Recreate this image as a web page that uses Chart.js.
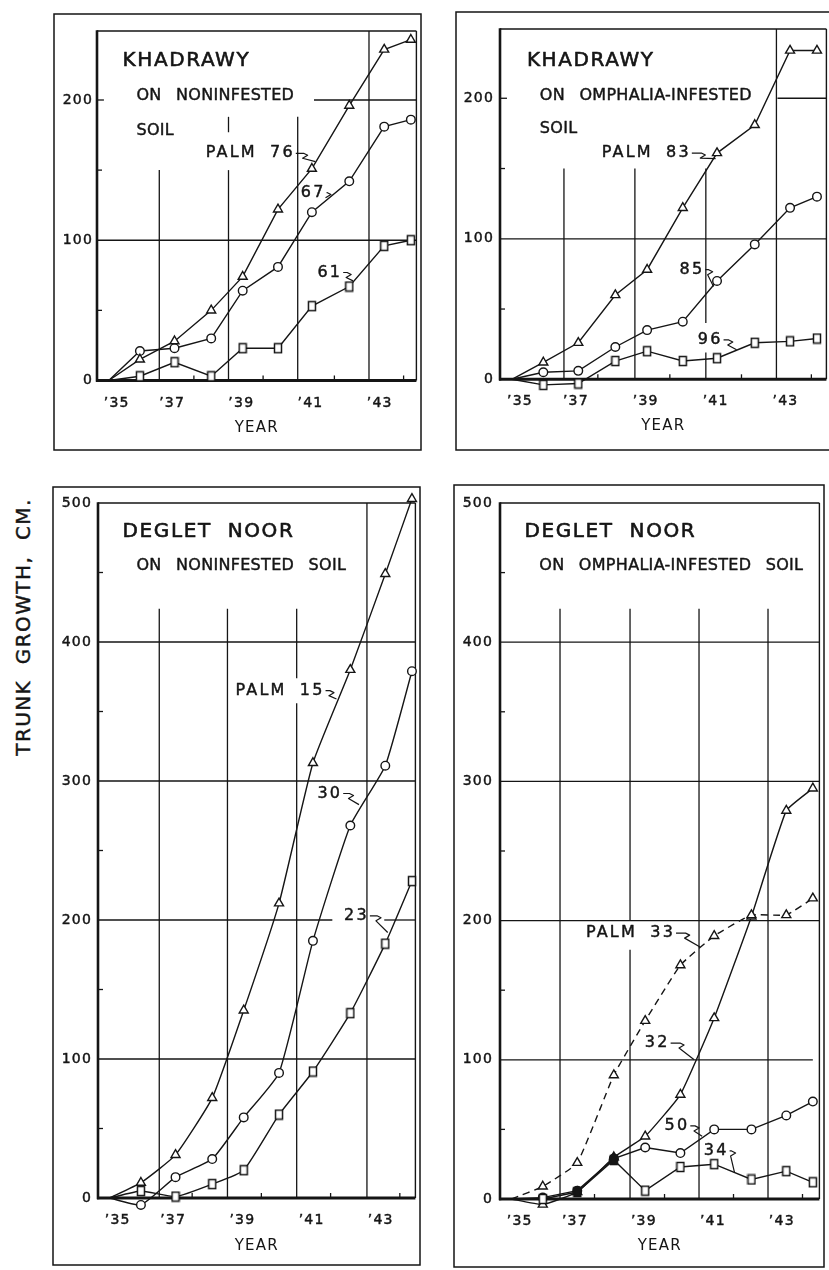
<!DOCTYPE html>
<html>
<head>
<meta charset="utf-8">
<script src="https://cdn.jsdelivr.net/npm/chart.js@4/dist/chart.umd.min.js"></script>
<style>
  html, body { margin: 0; padding: 0; background: #fff; width: 829px; height: 1270px; overflow: hidden; position: relative; }
  canvas { position: absolute; }
  #ytitle {
    position: absolute; left: 23px; top: 627px;
    transform: translate(-50%, -50%) rotate(-90deg);
    font: 20px "DejaVu Sans", sans-serif; letter-spacing: 1.4px; word-spacing: 8px;
    -webkit-text-stroke: 0.45px #151515;
    white-space: nowrap; color: #151515;
  }
</style>
</head>
<body>
<div id="ytitle">TRUNK GROWTH, CM.</div>
<canvas id="c1"></canvas>
<canvas id="c2"></canvas>
<canvas id="c3"></canvas>
<canvas id="c4"></canvas>
<script>
// Measurement dates (fractional years), shared by all four plots.
// The first entry is the common starting point of every curve.
const years = [1935.17, 1936.07, 1937.07, 1938.13, 1939.04, 1940.06, 1941.04, 1942.12, 1943.13, 1943.9];
const yearTicks = [1935.4, 1937, 1939, 1941, 1943];
const yearLabels = ['\u201935', '\u201937', '\u201939', '\u201941', '\u201943'];

// Khadrawy on noninfested soil (trunk growth, cm)
const khNonPalm76 = [0, 15, 28, 50, 74, 122, 151, 196, 236, 243];
const khNonPalm67 = [0, 21, 23, 30, 64, 81, 120, 142, 181, 186];
const khNonPalm61 = [0, 3, 13, 3, 23, 23, 53, 67, 96, 100];

// Khadrawy on Omphalia-infested soil
const khInfPalm83 = [0, 12, 26, 60, 78, 122, 161, 181, 234, 234];
const khInfPalm85 = [0, 5, 6, 23, 35, 41, 70, 96, 122, 130];
const khInfPalm96 = [0, -4, -3, 13, 20, 13, 15, 26, 27, 29];

// Deglet Noor on noninfested soil
const dnNonPalm15 = [0, 11, 31, 72, 135, 212, 313, 380, 449, 503];
const dnNonPalm30 = [0, -5, 15, 28, 58, 90, 185, 268, 311, 379];
const dnNonPalm23 = [0, 5, 1, 10, 20, 60, 91, 133, 183, 228];

// Deglet Noor on Omphalia-infested soil
const dnInfPalm33 = [0, 9, 26, 89, 128, 168, 189, 204, 204, 216];
const dnInfPalm32 = [0, -4, 5, 30, 45, 75, 130, 203, 279, 295];
const dnInfPalm50 = [0, 1, 6, 29, 37, 33, 50, 50, 60, 70];
const dnInfPalm34 = [0, 0, 5, 28, 6, 23, 25, 14, 20, 12];

const khTicks = [0, 100, 200];
const dnTicks = [0, 100, 200, 300, 400, 500];

const INK = '#151515';
const FONT = '"DejaVu Sans", sans-serif';

// hollow (or solid) upright rectangle used as the square marker
function squareMark(fill) {
  const c = document.createElement('canvas');
  c.width = 10; c.height = 12;
  const g = c.getContext('2d');
  g.fillStyle = fill; g.strokeStyle = INK; g.lineWidth = 1.5;
  g.fillRect(1.5, 1.5, 7, 9);
  g.strokeRect(1.5, 1.5, 7, 9);
  return c;
}

function series(values, kind, opts = {}) {
  const filled = opts.filled || [];
  const fillAt = i => filled.includes(i) ? INK : '#fff';
  const radius = kind === 'tri' ? 5.2 : (kind === 'circ' ? 4.3 : 4.5);
  return {
    data: years.map((x, i) => ({ x, y: values[i] })),
    borderColor: INK,
    borderWidth: 1.4,
    borderDash: opts.dash || [],
    tension: opts.tension || 0,
    fill: false,
    clip: false,
    pointRadius: years.map((_, i) => i === 0 ? 0 : radius),
    pointHoverRadius: 0,
    pointStyle: kind === 'sq'
      ? years.map((_, i) => squareMark(fillAt(i)))
      : (kind === 'tri' ? 'triangle' : 'circle'),
    pointBorderColor: INK,
    pointBorderWidth: 1.4,
    pointBackgroundColor: years.map((_, i) => fillAt(i))
  };
}

const TEXT_STYLES = {
  title: { size: 20, ls: 1.6, ws: 8, stroke: 0.6 },
  sub:   { size: 16, ls: 0.3, ws: 9, stroke: 0.45 },
  note:  { size: 16, ls: 2.2, ws: 6, stroke: 0.45 }
};

function leader(ctx, sx, sy, tx, ty) {
  const mx = sx + (tx - sx) * 0.4;
  ctx.beginPath();
  ctx.moveTo(sx, sy);
  ctx.lineTo(mx, sy);
  ctx.lineTo(mx + 4, sy + 2);
  ctx.lineTo(mx - 1, sy + 5);
  ctx.lineTo(tx, ty);
  ctx.stroke();
}

function makeDecor(p) {
  return {
    id: 'decor',
    beforeDraw(chart) {
      chart.ctx.letterSpacing = '1.2px';
    },
    beforeDatasetsDraw(chart) {
      const { ctx, chartArea: a, scales: { x, y } } = chart;
      const X = v => x.getPixelForValue(v), Y = v => y.getPixelForValue(v);
      const y0 = Y(0), yTop = a.top;
      const seg = (x1, y1, x2, y2) => { ctx.beginPath(); ctx.moveTo(x1, y1); ctx.lineTo(x2, y2); ctx.stroke(); };
      ctx.save();
      ctx.strokeStyle = INK;
      ctx.lineCap = 'butt';
      // partial grid lines
      ctx.lineWidth = 1.3;
      p.vLines.forEach(([xv, a1, a2]) => seg(X(xv), Y(a1), X(xv), Y(a2)));
      p.hLines.forEach(([yv, b1, b2]) => seg(X(b1), Y(yv), X(b2), Y(yv)));
      // minor tick marks
      p.xMinor.forEach(xv => seg(X(xv), y0, X(xv), y0 - 5));
      p.yMinor.forEach(yv => seg(a.left, Y(yv), a.left + 5, Y(yv)));
      // plot frame
      ctx.lineWidth = 1.4;
      seg(a.left, yTop, a.right, yTop);
      seg(a.right, yTop, a.right, y0);
      ctx.lineWidth = 2.6;
      seg(a.left, yTop - 0.7, a.left, y0 + 1.3);
      ctx.lineWidth = 3;
      seg(a.left - 1, y0, a.right, y0);
      // outer box
      ctx.lineWidth = 1.5;
      ctx.strokeRect(2, 2, chart.width - 4, chart.height - 4);
      ctx.restore();
    },
    afterDatasetsDraw(chart) {
      const { ctx, scales: { x, y } } = chart;
      ctx.save();
      ctx.fillStyle = INK;
      ctx.strokeStyle = INK;
      ctx.lineJoin = 'round';
      ctx.textAlign = 'left';
      ctx.textBaseline = 'middle';
      p.texts.forEach(t => {
        const st = TEXT_STYLES[t.style];
        ctx.font = st.size + 'px ' + FONT;
        ctx.letterSpacing = st.ls + 'px';
        ctx.wordSpacing = st.ws + 'px';
        const px = x.getPixelForValue(t.x), py = y.getPixelForValue(t.y);
        ctx.fillText(t.text, px, py);
        ctx.lineWidth = st.stroke;
        ctx.strokeText(t.text, px, py);
        if (t.to) {
          const w = ctx.measureText(t.text).width;
          ctx.lineWidth = 1.2;
          leader(ctx, px + w + 1, py, x.getPixelForValue(t.to[0]), y.getPixelForValue(t.to[1]));
        }
      });
      ctx.restore();
      ctx.letterSpacing = '0px';
    }
  };
}

const PANELS = [
  {
    id: 'c1', box: { left: 52, top: 12, width: 371, height: 440 },
    plot: { left: 45, top: 19, padRight: 3, xAxisH: 57.5 }, yPad: 4, titlePad: 15,
    x: { min: 1934.83, max: 1944.06 }, y: { min: -10, max: 249.2 }, yTicks: khTicks,
    series: [series(khNonPalm76, 'tri'), series(khNonPalm67, 'circ'), series(khNonPalm61, 'sq')],
    vLines: [[1936.63, 0, 150], [1938.63, 0, 150], [1938.63, 177, 188], [1940.63, 0, 188], [1942.69, 0, 249.2]],
    hLines: [[100, 1934.83, 1944.06], [200, 1941.1, 1944.06], [200, 1934.83, 1935.03]],
    xMinor: [1937.63, 1939.63, 1941.69, 1943.69], yMinor: [50, 150],
    texts: [
      { text: 'KHADRAWY', x: 1935.57, y: 228, style: 'title' },
      { text: 'ON NONINFESTED', x: 1935.97, y: 203, style: 'sub' },
      { text: 'SOIL', x: 1935.97, y: 178, style: 'sub' },
      { text: 'PALM 76', x: 1937.97, y: 162, style: 'note', to: [1941.14, 156] },
      { text: '67', x: 1940.72, y: 134, style: 'note', to: [1941.49, 131] },
      { text: '61', x: 1941.2, y: 77, style: 'note', to: [1942.23, 71] }
    ]
  },
  {
    id: 'c2', box: { left: 454, top: 10, width: 379, height: 442 },
    plot: { left: 46, top: 19, padRight: 6, xAxisH: 58.65 }, yPad: 6, titlePad: 17,
    x: { min: 1934.83, max: 1944.17 }, y: { min: -10, max: 249.3 }, yTicks: khTicks,
    series: [series(khInfPalm83, 'tri'), series(khInfPalm85, 'circ'), series(khInfPalm96, 'sq')],
    vLines: [[1936.66, 0, 150], [1938.69, 0, 150], [1940.72, 0, 19], [1940.72, 40, 150], [1942.74, 0, 249.3]],
    hLines: [[100, 1934.83, 1944.17], [200, 1942.77, 1944.17], [200, 1934.83, 1935.03]],
    xMinor: [1937.63, 1939.69, 1941.74, 1943.74], yMinor: [50, 150],
    texts: [
      { text: 'KHADRAWY', x: 1935.6, y: 227, style: 'title' },
      { text: 'ON OMPHALIA-INFESTED', x: 1935.97, y: 202, style: 'sub' },
      { text: 'SOIL', x: 1935.97, y: 178, style: 'sub' },
      { text: 'PALM 83', x: 1937.74, y: 161, style: 'note', to: [1941.0, 157] },
      { text: '85', x: 1939.97, y: 78, style: 'note', to: [1940.94, 66] },
      { text: '96', x: 1940.49, y: 28, style: 'note', to: [1941.6, 21] }
    ]
  },
  {
    id: 'c3', box: { left: 51, top: 485, width: 371, height: 782 },
    plot: { left: 47, top: 18, padRight: 3, xAxisH: 55.1 }, yPad: 6, titlePad: 12,
    x: { min: 1934.83, max: 1944.0 }, y: { min: -10, max: 500 }, yTicks: dnTicks,
    series: [series(dnNonPalm15, 'tri', { tension: 0.15 }), series(dnNonPalm30, 'circ', { tension: 0.15 }), series(dnNonPalm23, 'sq', { tension: 0.15 })],
    vLines: [[1936.6, 0, 424], [1938.57, 0, 424], [1940.57, 0, 356], [1940.57, 374, 424], [1942.6, 0, 500]],
    hLines: [[100, 1934.83, 1944.0], [300, 1934.83, 1944.0], [400, 1934.83, 1944.0], [200, 1934.83, 1941.6], [200, 1943.1, 1944.0]],
    xMinor: [1937.55, 1939.55, 1941.55, 1943.55], yMinor: [50, 150, 250, 350, 450],
    texts: [
      { text: 'DEGLET NOOR', x: 1935.54, y: 479, style: 'title' },
      { text: 'ON NONINFESTED SOIL', x: 1935.94, y: 455, style: 'sub' },
      { text: 'PALM 15', x: 1938.8, y: 365, style: 'note', to: [1941.72, 359] },
      { text: '30', x: 1941.17, y: 291, style: 'note', to: [1942.37, 283] },
      { text: '23', x: 1941.94, y: 203, style: 'note', to: [1943.2, 191] }
    ]
  },
  {
    id: 'c4', box: { left: 452, top: 483, width: 374, height: 786 },
    plot: { left: 48, top: 20, padRight: 2, xAxisH: 56.1 }, yPad: 7, titlePad: 14,
    x: { min: 1934.83, max: 1944.09 }, y: { min: -10, max: 500 }, yTicks: dnTicks,
    series: [
      series(dnInfPalm33, 'tri', { dash: [7, 5], tension: 0.12 }),
      series(dnInfPalm34, 'sq', { filled: [2, 3] }),
      series(dnInfPalm50, 'circ', { filled: [2, 3] }),
      series(dnInfPalm32, 'tri', { filled: [2, 3], tension: 0.12 })
    ],
    vLines: [[1936.57, 0, 424], [1938.6, 0, 179], [1938.6, 200, 424], [1940.6, 0, 424], [1942.6, 0, 424]],
    hLines: [[100, 1934.83, 1943.9], [200, 1934.83, 1944.09], [300, 1934.83, 1944.09], [400, 1934.83, 1944.09]],
    xMinor: [1937.57, 1939.6, 1941.6, 1943.6], yMinor: [50, 150, 250, 350, 450],
    texts: [
      { text: 'DEGLET NOOR', x: 1935.54, y: 479.5, style: 'title' },
      { text: 'ON OMPHALIA-INFESTED SOIL', x: 1935.97, y: 455, style: 'sub' },
      { text: 'PALM 33', x: 1937.32, y: 191, style: 'note', to: [1940.63, 181] },
      { text: '32', x: 1939.03, y: 112, style: 'note', to: [1940.46, 100] },
      { text: '50', x: 1939.6, y: 52.5, style: 'note', to: [1940.69, 45] },
      { text: '34', x: 1940.74, y: 34.5, style: 'note', to: [1941.63, 19] }
    ]
  }
];

function makeChart(p) {
  const cv = document.getElementById(p.id);
  cv.width = p.box.width; cv.height = p.box.height;
  cv.style.left = p.box.left + 'px'; cv.style.top = p.box.top + 'px';
  cv.style.width = p.box.width + 'px'; cv.style.height = p.box.height + 'px';
  const tickFont = { family: FONT, size: 14 };
  return new Chart(cv, {
    type: 'line',
    data: { datasets: p.series },
    options: {
      responsive: false,
      animation: false,
      devicePixelRatio: 1,
      events: [],
      layout: { padding: { left: 0, top: p.plot.top, right: p.plot.padRight, bottom: 0 } },
      plugins: { legend: { display: false }, tooltip: { enabled: false } },
      scales: {
        x: {
          type: 'linear', min: p.x.min, max: p.x.max,
          afterBuildTicks: s => { s.ticks = yearTicks.map(v => ({ value: v })); },
          afterFit: s => { s.height = p.plot.xAxisH; },
          grid: { display: false, drawTicks: false },
          border: { display: false },
          ticks: { autoSkip: false, maxRotation: 0, padding: 0, color: INK, font: tickFont,
                   textStrokeColor: INK, textStrokeWidth: 0.45,
                   callback: (v, i) => yearLabels[i] },
          title: { display: true, text: 'YEAR', color: INK, font: { family: FONT, size: 15 },
                   padding: { top: 0, bottom: p.titlePad } }
        },
        y: {
          type: 'linear', min: p.y.min, max: p.y.max,
          afterBuildTicks: s => { s.ticks = p.yTicks.map(v => ({ value: v })); },
          afterFit: s => { s.width = p.plot.left; },
          grid: { display: false, drawTicks: false },
          border: { display: false },
          ticks: { padding: p.yPad, color: INK, font: tickFont,
                   textStrokeColor: INK, textStrokeWidth: 0.45 }
        }
      }
    },
    plugins: [makeDecor(p)]
  });
}

PANELS.forEach(makeChart);
</script>
</body>
</html>
